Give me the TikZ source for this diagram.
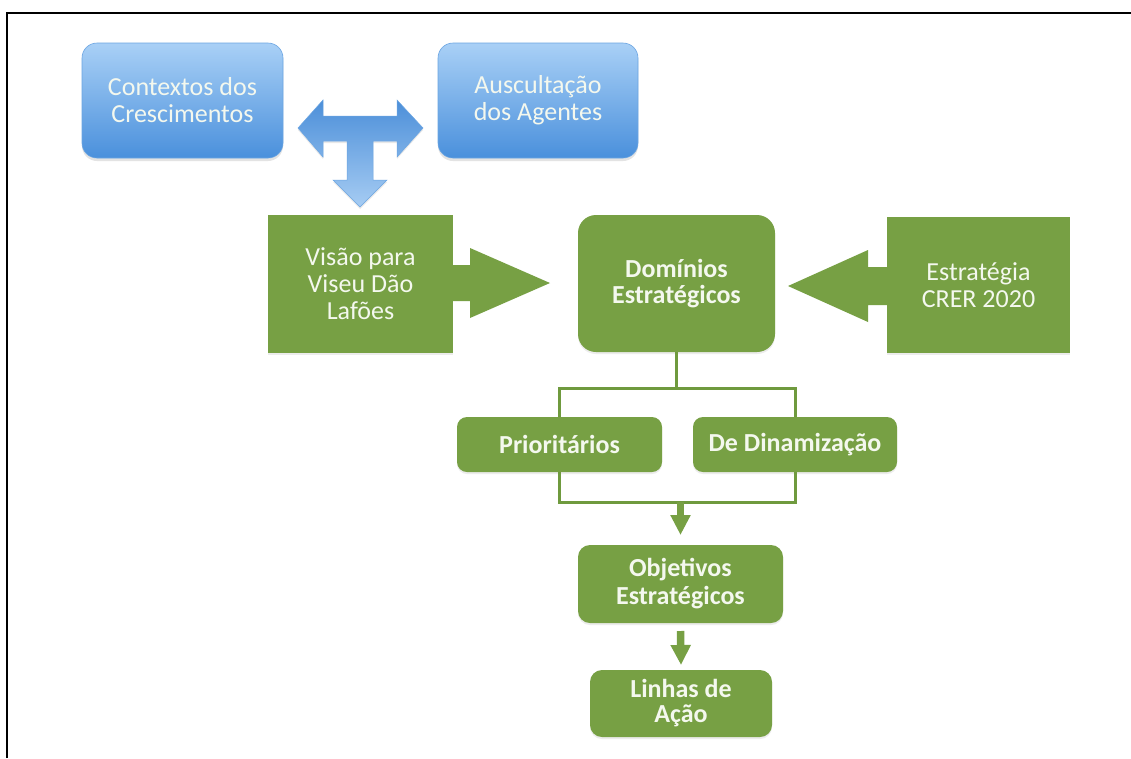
\documentclass[tikz,border=0pt]{standalone}
\usepackage{fontspec}
\setmainfont{Carlito}
\usetikzlibrary{shadows,calc,arrows.meta}
\definecolor{gr}{HTML}{77A044}
\definecolor{grline}{HTML}{6F9A3E}
\definecolor{txtc}{HTML}{F4F8EE}
\definecolor{bltop}{HTML}{A9D0F6}
\definecolor{blbot}{HTML}{4A90DC}
\definecolor{bledge}{HTML}{6BA5E2}
\definecolor{tatop}{HTML}{4C8FD9}
\definecolor{tabot}{HTML}{A6CCF3}
\begin{document}
\begin{tikzpicture}[x=1pt,y=-1pt,
  lbl/.style={font=\fontsize{26}{27}\selectfont, text=txtc, align=center, inner sep=0pt, outer sep=0pt},
  bluebox/.style={lbl, rounded corners=15pt, top color=bltop, bottom color=blbot, draw=bledge, line width=0.6pt,
     drop shadow={opacity=0.22, shadow xshift=0pt, shadow yshift=-3pt}},
  greenbox/.style={lbl, fill=gr, drop shadow={opacity=0.15, shadow xshift=0pt, shadow yshift=-2pt}},
  greenround/.style={greenbox, rounded corners=#1},
  conn/.style={draw=grline, line width=3pt},
  smallarrow/.style={draw=gr, line width=7.5pt, -{Triangle[width=19pt,length=20pt]}},
  blockarrow/.style={fill=gr}
]
\useasboundingbox (0,0) rectangle (1131,758);
\fill[white] (0,0) rectangle (1131,758);
% frame
\draw[line width=2.6pt] (7,758) -- (7,13) -- (1131,13);

% nodes
\node[bluebox, minimum width=201pt, minimum height=115pt] (ctx) at (182.5,100.5) {Contextos dos\\Crescimentos};
\node[bluebox, minimum width=200pt, minimum height=115pt] (aus) at (538,100.5) {Auscultação\\dos Agentes};
\node[greenbox, minimum width=185pt, minimum height=138pt] (visao) at (360.5,284) {Visão para\\Viseu Dão\\Lafões};
\node[greenround=18pt, minimum width=197pt, minimum height=137pt, font=\fontsize{26}{26}\selectfont\bfseries] (dom) at (676.5,283.5) {Domínios\\Estratégicos};
\node[greenbox, minimum width=183pt, minimum height=136pt] (est) at (978.5,285) {Estratégia\\CRER 2020};
\node[greenround=10pt, minimum width=205pt, minimum height=55pt, font=\fontsize{26}{27}\selectfont\bfseries] (prio) at (559.5,444.5) {Prioritários};
\node[greenround=10pt, minimum width=204pt, minimum height=55pt, font=\fontsize{26}{27}\selectfont\bfseries] (dina) at (795,444.5) {De Dinamização};
\node[greenround=12pt, minimum width=205pt, minimum height=78pt, font=\fontsize{26}{28}\selectfont\bfseries] (obj) at (680.5,584) {Objetivos\\Estratégicos};
\node[greenround=12pt, minimum width=182pt, minimum height=67pt, font=\fontsize{26}{25}\selectfont\bfseries] (lin) at (681,703.5) {Linhas de\\Ação};

% T-shaped blue arrow
\coordinate (T) at ($(visao.north)+(-0.5,-87)$);
\begin{scope}[shift={(T)}]
\path[top color=tatop, bottom color=tabot, draw=bledge, line width=0.5pt,
      drop shadow={opacity=0.18, shadow xshift=0pt, shadow yshift=-2pt}]
  (-62,0) -- (-37,-28) -- (-37,-12) -- (37,-12) -- (37,-28) -- (63,0) -- (37,29) -- (37,13)
  -- (13,13) -- (13,52) -- (27,52) -- (0,79) -- (-27,52) -- (-13,52) -- (-13,13)
  -- (-37,13) -- (-37,29) -- cycle;
\end{scope}

% green block arrows
\begin{scope}[shift={($(visao.east)+(0,-1)$)}]
\fill[blockarrow] (-1,-18) -- (17,-18) -- (17,-35) -- (97,0) -- (17,35) -- (17,18) -- (-1,18) -- cycle;
\end{scope}
\begin{scope}[shift={($(est.west)+(0,1)$)}]
\fill[blockarrow] (1,-19) -- (-19,-19) -- (-19,-36) -- (-99,0) -- (-19,36) -- (-19,19) -- (1,19) -- cycle;
\end{scope}

% tree connectors
\draw[conn] (dom.south) -- ++(0,36) coordinate (j1);
\draw[conn] (prio.north) |- (j1) -| (dina.north);
\coordinate (j2) at ($(obj.north)+(0,-43)$);
\draw[conn] (prio.south) |- (j2) -| (dina.south);
\draw[smallarrow] (j2) -- ($(obj.north)+(0,-10)$);
\draw[smallarrow] ($(obj.south)+(0,8)$) -- ($(lin.north)+(0,-5)$);
\end{tikzpicture}
\end{document}
